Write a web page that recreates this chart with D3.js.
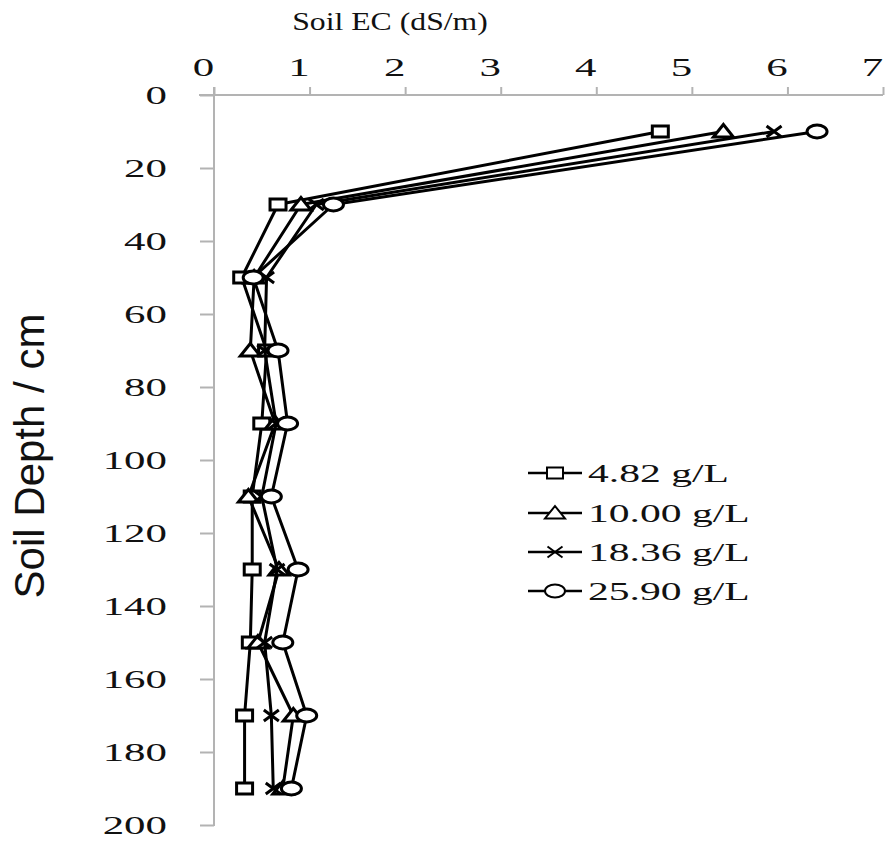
<!DOCTYPE html>
<html>
<head>
<meta charset="utf-8">
<script src="https://cdn.jsdelivr.net/npm/d3@7"></script>
<style>
  html, body { margin: 0; padding: 0; background: #fff; }
  svg { display: block; }
</style>
</head>
<body>
<div id="chart"></div>
<script>
// ---------- data ----------
const depths = [10, 30, 50, 70, 90, 110, 130, 150, 170, 190];
const seriesNames = ["4.82 g/L", "10.00 g/L", "18.36 g/L", "25.90 g/L"];
const seriesSymbols = ["square", "triangle", "cross", "circle"];
const ec_4_82  = [4.67, 0.67, 0.29, 0.55, 0.50, 0.40, 0.40, 0.38, 0.32, 0.32];
const ec_10_00 = [5.33, 0.91, 0.42, 0.38, 0.64, 0.36, 0.68, 0.46, 0.83, 0.72];
const ec_18_36 = [5.86, 1.07, 0.55, 0.53, 0.65, 0.50, 0.66, 0.53, 0.60, 0.62];
const ec_25_90 = [6.31, 1.25, 0.41, 0.67, 0.77, 0.60, 0.88, 0.72, 0.97, 0.81];
const seriesValues = [ec_4_82, ec_10_00, ec_18_36, ec_25_90];
const xTicks = [0, 1, 2, 3, 4, 5, 6, 7];
const yTicks = [0, 20, 40, 60, 80, 100, 120, 140, 160, 180, 200];
const xTitle = "Soil EC (dS/m)";
const yTitle = "Soil Depth / cm";

// ---------- layout ----------
const W = 885, H = 841;
const svg = d3.select("#chart").append("svg").attr("width", W).attr("height", H);

const x = d3.scaleLinear().domain([0, 7]).range([214, 883]);
const y = d3.scaleLinear().domain([0, 200]).range([95, 825]);

const axisColor = "#b3b3b3";
const serif = "'Liberation Serif', 'Times New Roman', serif";
const stretch = 1.65;

// ---------- axes ----------
const gx = svg.append("g").attr("transform", `translate(0,${y(0)})`)
  .call(d3.axisTop(x).tickValues(xTicks).tickSize(8).tickSizeOuter(0).tickFormat(d3.format("d")));
gx.select(".domain").remove();
gx.append("line").attr("x1", 199).attr("x2", x(7)).attr("y1", 0).attr("y2", 0)
  .attr("stroke", axisColor).attr("stroke-width", 2);
gx.selectAll(".tick line").attr("stroke", axisColor).attr("stroke-width", 2);
gx.selectAll(".tick text")
  .attr("y", 0).attr("dy", 0)
  .attr("transform", `translate(-11,-19) scale(${stretch},1)`)
  .attr("fill", "#111").attr("font-family", serif).attr("font-size", 26)
  .attr("text-anchor", "middle");

const gy = svg.append("g").attr("transform", `translate(${x(0)},0)`)
  .call(d3.axisLeft(y).tickValues(yTicks).tickSize(14).tickSizeOuter(0).tickFormat(d3.format("d")));
gy.select(".domain").remove();
gy.append("line").attr("x1", 0).attr("x2", 0).attr("y1", y(0) - 8).attr("y2", y(200) + 1)
  .attr("stroke", axisColor).attr("stroke-width", 2);
gy.selectAll(".tick line").attr("stroke", axisColor).attr("stroke-width", 2);
gy.selectAll(".tick text")
  .attr("x", 0).attr("dy", "0.34em")
  .attr("transform", `translate(-47,0) scale(${stretch},1)`)
  .attr("fill", "#111").attr("font-family", serif).attr("font-size", 26)
  .attr("text-anchor", "end");

// titles
svg.append("text")
  .attr("transform", `translate(390,30) scale(1.22,1)`)
  .attr("text-anchor", "middle")
  .attr("font-family", serif).attr("font-size", 26).attr("fill", "#111")
  .text(xTitle);

svg.append("text")
  .attr("transform", `translate(44,456) rotate(-90)`)
  .attr("text-anchor", "middle")
  .attr("font-family", "'Liberation Sans', Arial, sans-serif").attr("font-size", 42).attr("fill", "#111")
  .text(yTitle);

// ---------- markers ----------
function markerPath(type) {
  switch (type) {
    case "square":   return "M-8,-5.5H8V5.5H-8Z";
    case "triangle": return "M0,-7L10,5.5H-10Z";
    case "cross":    return "M-7.5,-5.5L7.5,5.5M-7.5,5.5L7.5,-5.5";
    case "circle":   return "M-10,0A10,6.5 0 1,0 10,0A10,6.5 0 1,0 -10,0Z";
  }
}

const line = d3.line().x(d => x(d.v)).y(d => y(d.d));

seriesValues.forEach((vals, i) => {
  const pts = depths.map((d, j) => ({ d: d, v: vals[j] }));
  const g = svg.append("g");
  g.append("path").datum(pts).attr("d", line)
    .attr("fill", "none").attr("stroke", "#000").attr("stroke-width", 3)
    .attr("stroke-linejoin", "round");
  g.selectAll("path.m").data(pts).enter().append("path").attr("class", "m")
    .attr("transform", p => `translate(${x(p.v)},${y(p.d)})`)
    .attr("d", markerPath(seriesSymbols[i]))
    .attr("fill", seriesSymbols[i] === "cross" ? "none" : "#fff")
    .attr("stroke", "#000").attr("stroke-width", 3);
});

// ---------- legend ----------
const legendRows = [473, 513, 552, 591];
seriesNames.forEach((name, i) => {
  const g = svg.append("g").attr("transform", `translate(0,${legendRows[i]})`);
  g.append("line").attr("x1", 528).attr("x2", 582).attr("y1", 0).attr("y2", 0)
    .attr("stroke", "#000").attr("stroke-width", 2.5);
  g.append("path").attr("transform", "translate(555,0)")
    .attr("d", markerPath(seriesSymbols[i]))
    .attr("fill", seriesSymbols[i] === "cross" ? "none" : "#fff")
    .attr("stroke", "#000").attr("stroke-width", 2);
  g.append("text")
    .attr("transform", `translate(588,9) scale(1.6,1)`)
    .attr("font-family", serif).attr("font-size", 26).attr("fill", "#111")
    .text(name);
});
</script>
</body>
</html>
